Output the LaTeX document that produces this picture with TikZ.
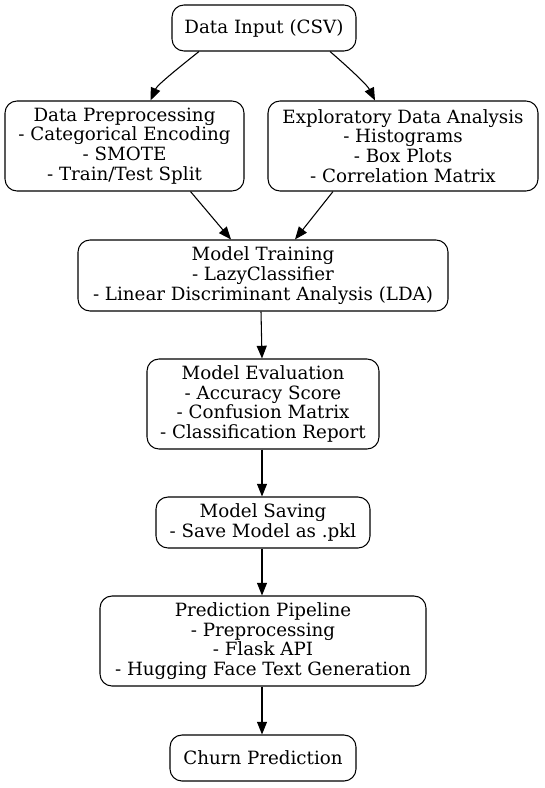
\documentclass[tikz,border=0pt]{standalone}
\usepackage{fontspec}
\setmainfont{DejaVu Serif}
\usetikzlibrary{arrows.meta,calc}
\begin{document}
\begin{tikzpicture}[x=0.75pt,y=-0.75pt,
  box/.style={draw,line width=0.8pt,rounded corners=9pt,align=center,inner sep=0pt,
    font=\fontsize{13.7}{14.8}\selectfont},
  arr/.style={line width=0.8pt,-{Triangle[length=9.5pt,width=7.5pt]}}]
\useasboundingbox (0,0) rectangle (544,788);
\node[box,minimum width=138pt,minimum height=34.5pt] (din) at (264,28) {Data Input (CSV)};
\node[box,minimum width=179.25pt,minimum height=67.5pt] (pre) at (124.5,146) {Data Preprocessing\\- Categorical Encoding\\- SMOTE\\- Train/Test Split};
\node[box,minimum width=202.5pt,minimum height=67.5pt] (eda) at (403,146) {Exploratory Data Analysis\\- Histograms\\- Box Plots\\- Correlation Matrix};
\node[box,minimum width=277.5pt,minimum height=53.25pt] (train) at (263,275.5) {Model Training\\- LazyClassifier\\- Linear Discriminant Analysis (LDA)};
\node[box,minimum width=174pt,minimum height=67.5pt] (eval) at (263,404) {Model Evaluation\\- Accuracy Score\\- Confusion Matrix\\- Classification Report};
\node[box,minimum width=160.5pt,minimum height=38.25pt] (save) at (263,522.5) {Model Saving\\- Save Model as .pkl};
\node[box,minimum width=244.5pt,minimum height=67.5pt] (pred) at (263,641) {Prediction Pipeline\\- Preprocessing\\- Flask API\\- Hugging Face Text Generation};
\node[box,minimum width=139.5pt,minimum height=34.5pt] (churn) at (263,758) {Churn Prediction};
\draw[arr] ($(din.south)+(-65,0)$) .. controls ($(din.south)+(-80,12)$) and ($(pre.north)+(33,-16)$) .. ($(pre.north)+(26,0)$);
\draw[arr] ($(din.south)+(66,0)$) .. controls ($(din.south)+(80,12)$) and ($(eda.north)+(-36,-16)$) .. ($(eda.north)+(-28,0)$);
\draw[arr] ($(pre.south)+(66,0)$) -- ($(train.north)+(-32,0)$);
\draw[arr] ($(eda.south)+(-70,0)$) -- ($(train.north)+(32,0)$);
\draw[arr] ($(train.south)+(-2,0)$) -- ($(eval.north)+(-1,0)$);
\draw[arr] ($(eval.south)+(-1,0)$) -- ($(save.north)+(-1,0)$);
\draw[arr] ($(save.south)+(-1,0)$) -- ($(pred.north)+(-1,0)$);
\draw[arr] ($(pred.south)+(-1,0)$) -- ($(churn.north)+(-1,0)$);
\end{tikzpicture}
\end{document}
